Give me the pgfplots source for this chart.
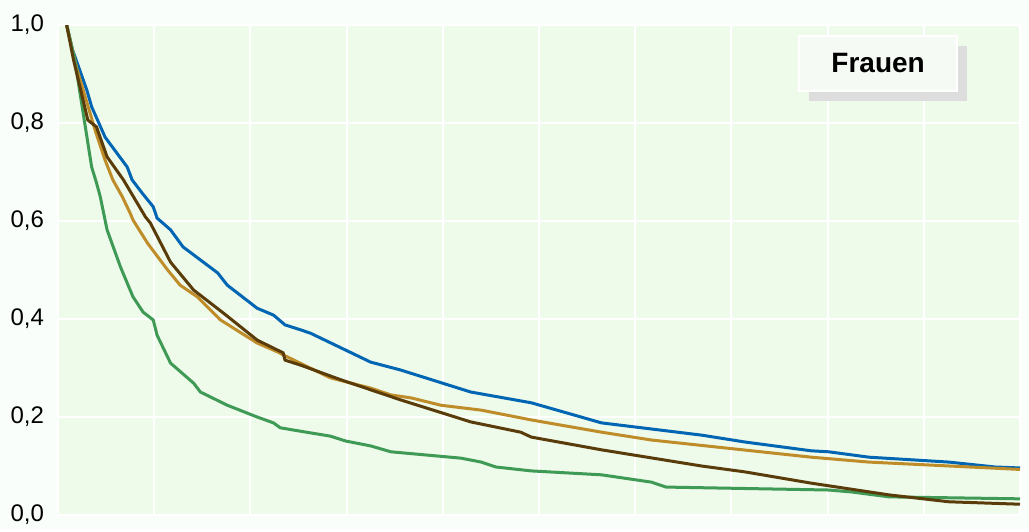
\documentclass[border=0pt]{standalone}
\usepackage{pgfplots}
\pgfplotsset{compat=1.18}
\usepackage{fontspec}
\setmainfont{Liberation Sans}

\definecolor{pagebg}{HTML}{FAFEFA}
\definecolor{plotbg}{HTML}{EEFAEA}
\definecolor{cblue}{HTML}{0066B3}
\definecolor{cgold}{HTML}{BF8C2A}
\definecolor{cbrown}{HTML}{5A3C0A}
\definecolor{cgreen}{HTML}{3F9A55}
\definecolor{boxfill}{HTML}{F6FAF5}
\definecolor{shadow}{HTML}{DDDDDD}

\begin{document}
\begin{tikzpicture}
\fill[pagebg] (-29pt,-7pt) rectangle (485.5pt,257.5pt);
\begin{axis}[
    scale only axis, width=481pt, height=245pt,
    xmin=0, xmax=10, ymin=0, ymax=1,
    axis line style={draw=none},
    axis background/.style={fill=plotbg},
    grid=major, major grid style={white, line width=1pt},
    xtick={0,...,10}, xticklabels={},
    ytick={0,0.2,...,1.0},
    major tick length=0pt,
    tick label style={font=\fontsize{12}{14}\selectfont},
    yticklabel style={xshift=-3.5pt},
    /pgf/number format/.cd, use comma, fixed, fixed zerofill, precision=1, assume math mode=true,
]
\addplot[cblue, line width=1.5pt] coordinates {
(0.09,1.0) (0.15,0.95) (0.30,0.867) (0.35,0.833) (0.49,0.771) (0.72,0.71)
(0.77,0.684) (0.875,0.657) (0.99,0.629) (1.03,0.606) (1.17,0.582) (1.30,0.547)
(1.66,0.494) (1.76,0.469) (2.07,0.422) (2.24,0.408) (2.36,0.388) (2.52,0.378)
(2.625,0.371) (3.25,0.312) (3.56,0.296) (4.29,0.251) (4.92,0.229) (5.65,0.188)
(6.69,0.163) (7.14,0.149) (7.83,0.131) (8.01,0.129) (8.43,0.118) (9.26,0.108)
(9.74,0.098) (10,0.096)};
\addplot[cgold, line width=1.5pt] coordinates {
(0.09,1.0) (0.20,0.908) (0.385,0.786) (0.49,0.724) (0.57,0.684) (0.67,0.649)
(0.75,0.616) (0.78,0.602) (0.93,0.555) (1.14,0.5) (1.27,0.469) (1.45,0.445)
(1.69,0.398) (2.07,0.351) (2.28,0.333) (2.36,0.325) (2.83,0.28) (3.25,0.259)
(3.46,0.245) (3.67,0.239) (3.98,0.224) (4.40,0.214) (4.92,0.194) (5.65,0.169)
(6.17,0.153) (6.69,0.142) (7.83,0.118) (8.43,0.108) (10,0.093)};
\addplot[cgreen, line width=1.5pt] coordinates {
(0.09,1.0) (0.18,0.922) (0.35,0.71) (0.4,0.678) (0.44,0.649) (0.51,0.582)
(0.65,0.506) (0.78,0.445) (0.885,0.414) (0.99,0.398) (1.03,0.367) (1.17,0.31)
(1.41,0.269) (1.48,0.251) (1.76,0.224) (2.07,0.2) (2.24,0.188) (2.31,0.178)
(2.52,0.171) (2.83,0.161) (2.99,0.151) (3.25,0.141) (3.46,0.129) (4.19,0.116)
(4.4,0.108) (4.55,0.098) (4.92,0.09) (5.65,0.082) (6.17,0.067) (6.32,0.057)
(8.01,0.051) (8.25,0.047) (8.64,0.037) (10,0.033)};
\addplot[cbrown, line width=1.5pt] coordinates {
(0.09,1.0) (0.16,0.93) (0.31,0.806) (0.4,0.792) (0.51,0.731) (0.68,0.684)
(0.91,0.608) (0.96,0.596) (1.17,0.516) (1.41,0.459) (1.72,0.412) (2.07,0.357)
(2.34,0.331) (2.36,0.316) (2.52,0.306) (2.94,0.276) (3.56,0.235) (4.29,0.19)
(4.81,0.169) (4.92,0.159) (5.65,0.133) (6.69,0.100) (7.14,0.088) (7.83,0.065)
(8.64,0.041) (9.26,0.027) (10,0.022)};
% label box with shadow
\fill[shadow] ([xshift=5pt,yshift=-5pt]axis cs:7.70,0.978) rectangle ([xshift=5pt,yshift=-5pt]axis cs:9.35,0.865);
\draw[white, line width=1pt, fill=boxfill] (axis cs:7.70,0.978) rectangle (axis cs:9.35,0.865);
\node[font=\fontsize{14}{16}\selectfont\bfseries] at (axis cs:8.525,0.9215) {Frauen};
\end{axis}
\end{tikzpicture}
\end{document}
